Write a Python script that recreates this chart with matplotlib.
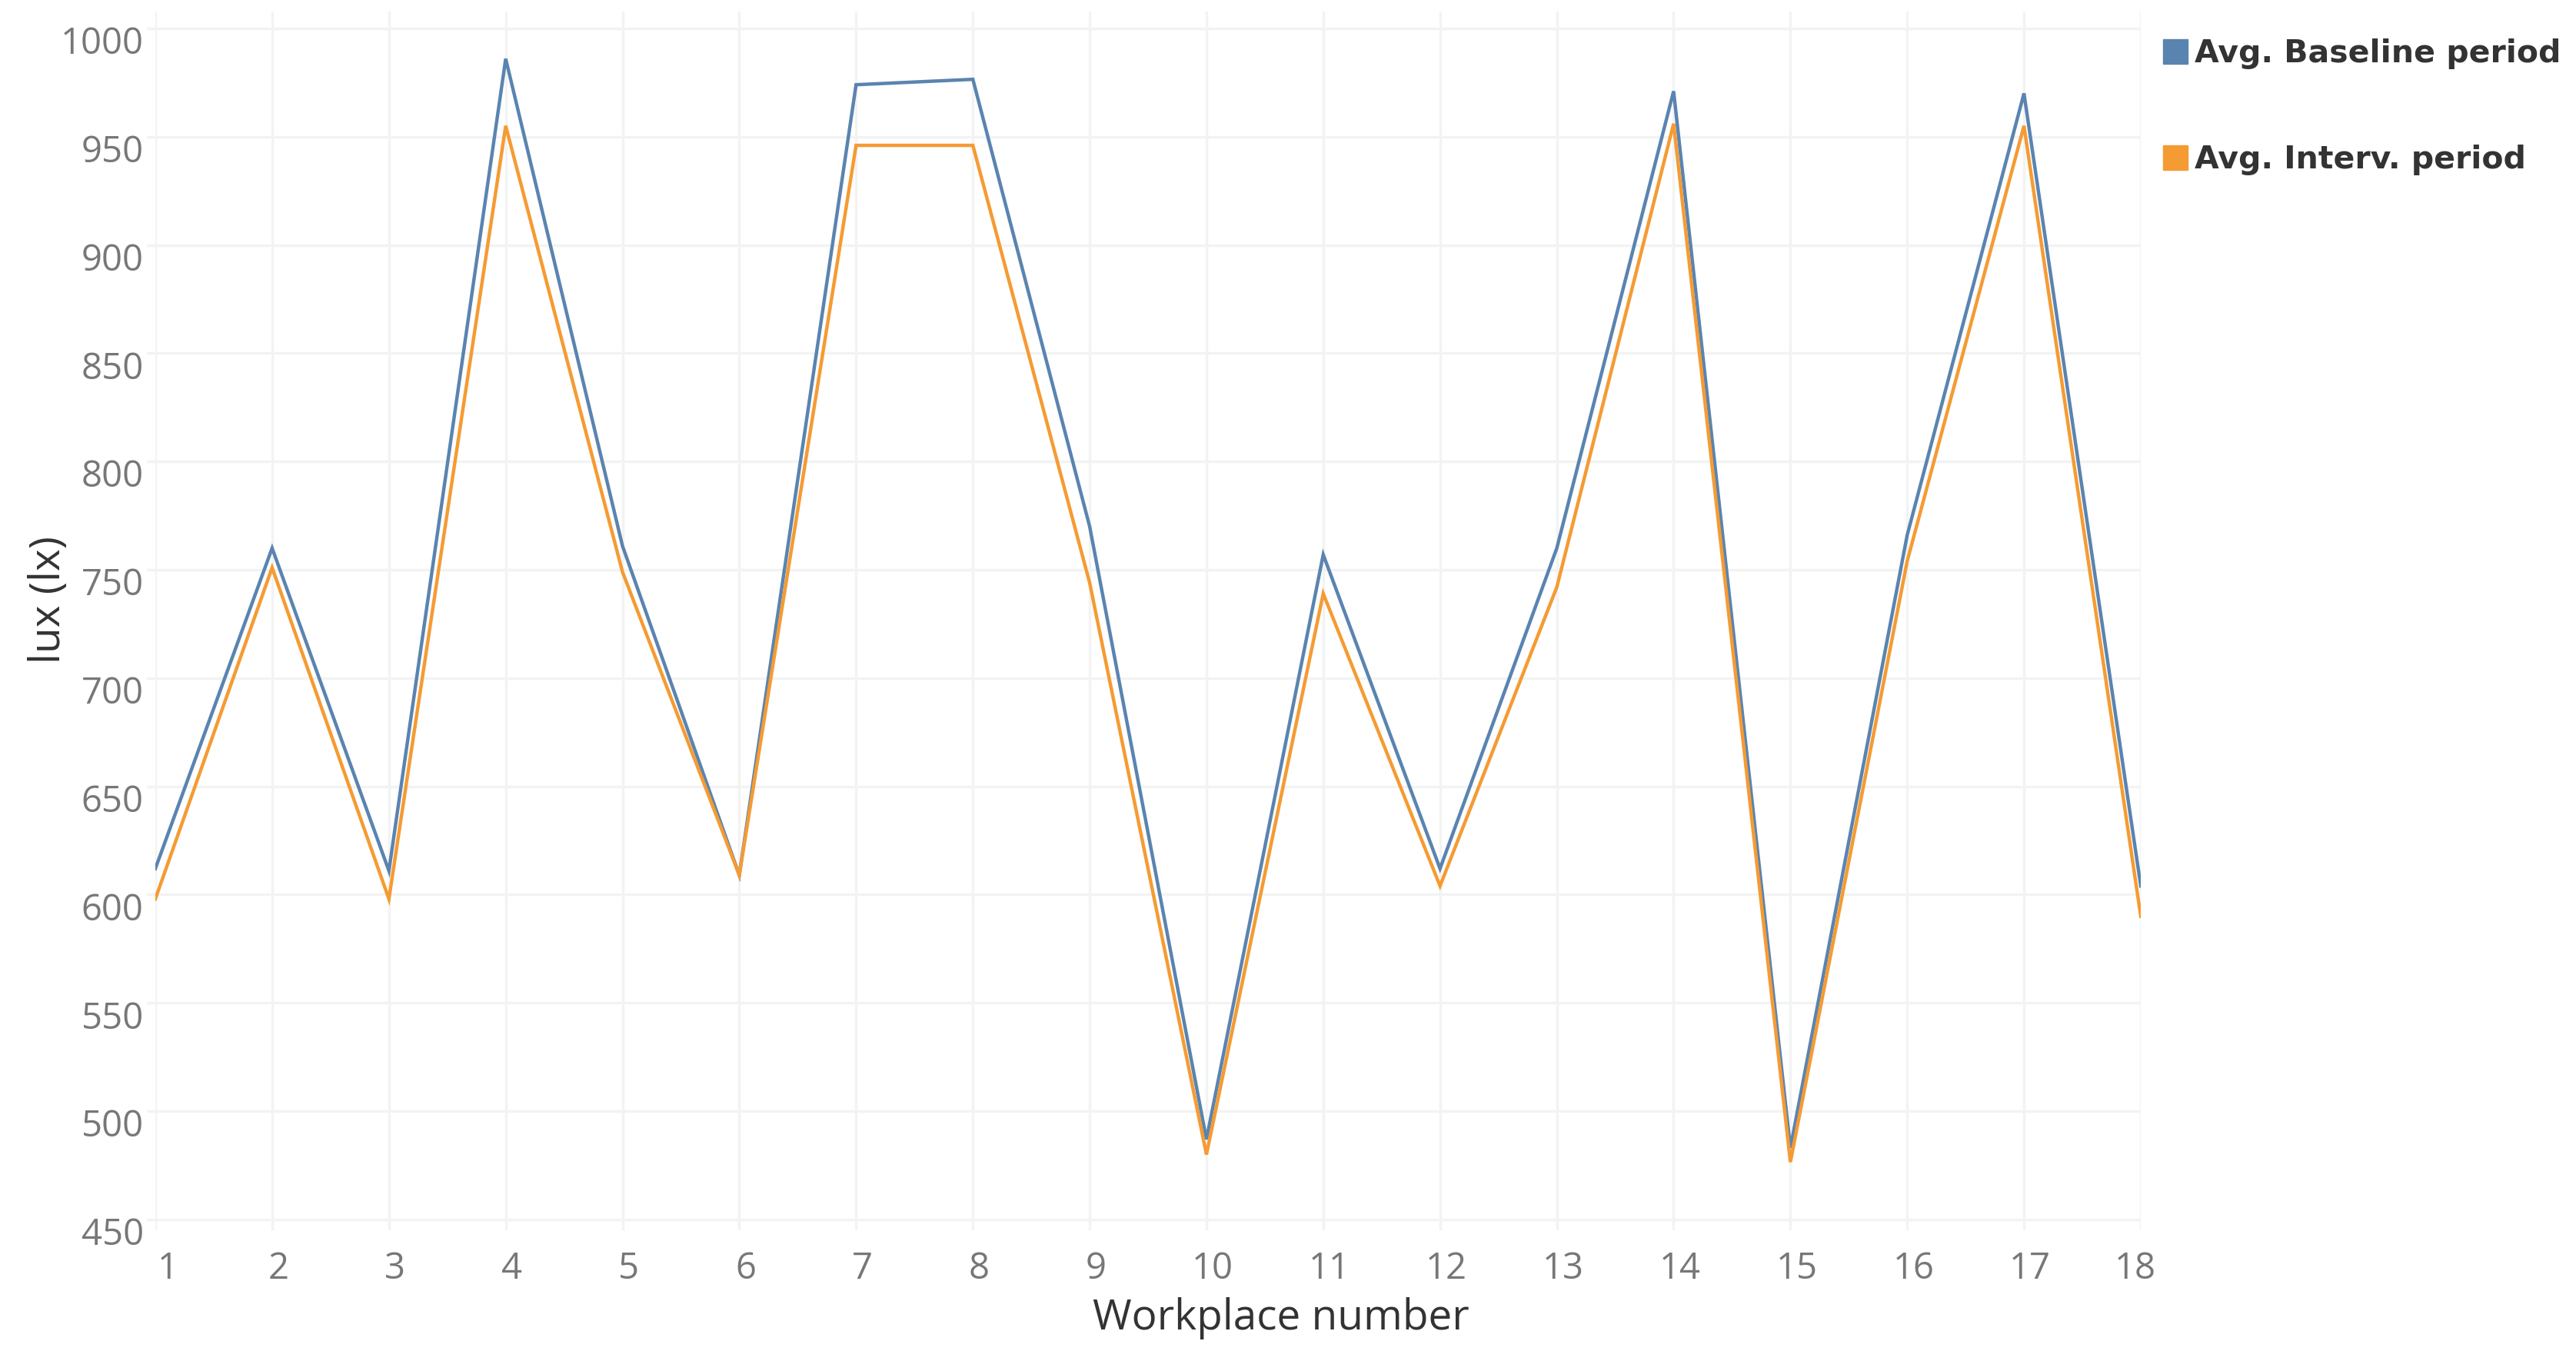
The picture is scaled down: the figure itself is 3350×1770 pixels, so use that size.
import matplotlib
matplotlib.use("Agg")
import matplotlib.pyplot as plt
import matplotlib.transforms as mtransforms
from matplotlib.lines import Line2D

# workplace numbers and average illuminance (lux)
workplaces = list(range(1, 19))
baseline = [612, 760, 611, 986, 761, 609, 974, 976.5, 770, 487, 757, 612, 760, 971, 483, 766, 970, 604]
interv = [598, 751, 598, 955, 749, 609, 946, 946, 744, 480, 739, 604, 742, 956, 476.5, 754, 955, 590]
yticks = [450, 500, 550, 600, 650, 700, 750, 800, 850, 900, 950, 1000]
series_names = ["Avg. Baseline period", "Avg. Interv. period"]

blue = "#5a84b0"
orange = "#f59b33"
grid_col = "#f2f3f3"
tick_col = "#777777"
label_col = "#333333"

fig = plt.figure(figsize=(33.5, 17.7), dpi=100)
ax = fig.add_axes([202 / 3350, 1 - 1600 / 1770, (2784 - 202) / 3350, (1600 - 15) / 1770])

ax.plot(workplaces, baseline, color=blue, lw=3.2, solid_joinstyle="miter", zorder=3)
ax.plot(workplaces, interv, color=orange, lw=3.2, solid_joinstyle="miter", zorder=3)

ax.set_xlim(1, 18)
ax.set_ylim(445, 1007.8)
ax.set_xticks(workplaces)
ax.set_yticks(yticks)
ax.grid(True, color=grid_col, lw=2.4, zorder=0)
for s in ax.spines.values():
    s.set_visible(False)

ax.tick_params(axis="y", length=8, width=2.4, color=grid_col, pad=3,
               labelsize=34, labelcolor=tick_col)
ax.tick_params(axis="x", length=0, pad=19, labelsize=34, labelcolor=tick_col)
for lab in ax.get_yticklabels() + ax.get_xticklabels():
    lab.set_family("Open Sans")

# nudge labels like the original
for lab in ax.get_yticklabels():
    lab.set_transform(lab.get_transform() + mtransforms.ScaledTranslation(0, -0.15, fig.dpi_scale_trans))
xl = ax.get_xticklabels()
for i, lab in enumerate(xl):
    dx = 0.08
    if i == 0:
        lab.set_ha("left")
        dx = 0.03
    elif i == len(xl) - 1:
        dx = -0.07
    lab.set_transform(lab.get_transform() + mtransforms.ScaledTranslation(dx, 0, fig.dpi_scale_trans))

ax.set_xlabel("Workplace number", fontsize=39.5, color=label_col, family="Open Sans", va="center")
ax.xaxis.set_label_coords((1666 - 202) / 2582, (1600 - 1715) / 1585)
ax.set_ylabel("lux (lx)", fontsize=39.5, color=label_col, family="Open Sans", va="center")
ax.yaxis.set_label_coords((64 - 202) / 2582, 0.5 + (807.5 - 780) / 1585)

handles = [Line2D([], [], marker="s", ls="none", color=blue, markersize=23),
           Line2D([], [], marker="s", ls="none", color=orange, markersize=23)]
fig.legend(handles, series_names, loc="upper left", bbox_to_anchor=(2813 / 3350, 1 - 50 / 1770),
           frameon=False, prop={"family": "DejaVu Sans", "weight": "bold", "size": 29.5},
           labelcolor=label_col, handlelength=0.8, handletextpad=0.2, labelspacing=2.4,
           borderaxespad=0, borderpad=0)

plt.savefig("out.png", dpi=100)
